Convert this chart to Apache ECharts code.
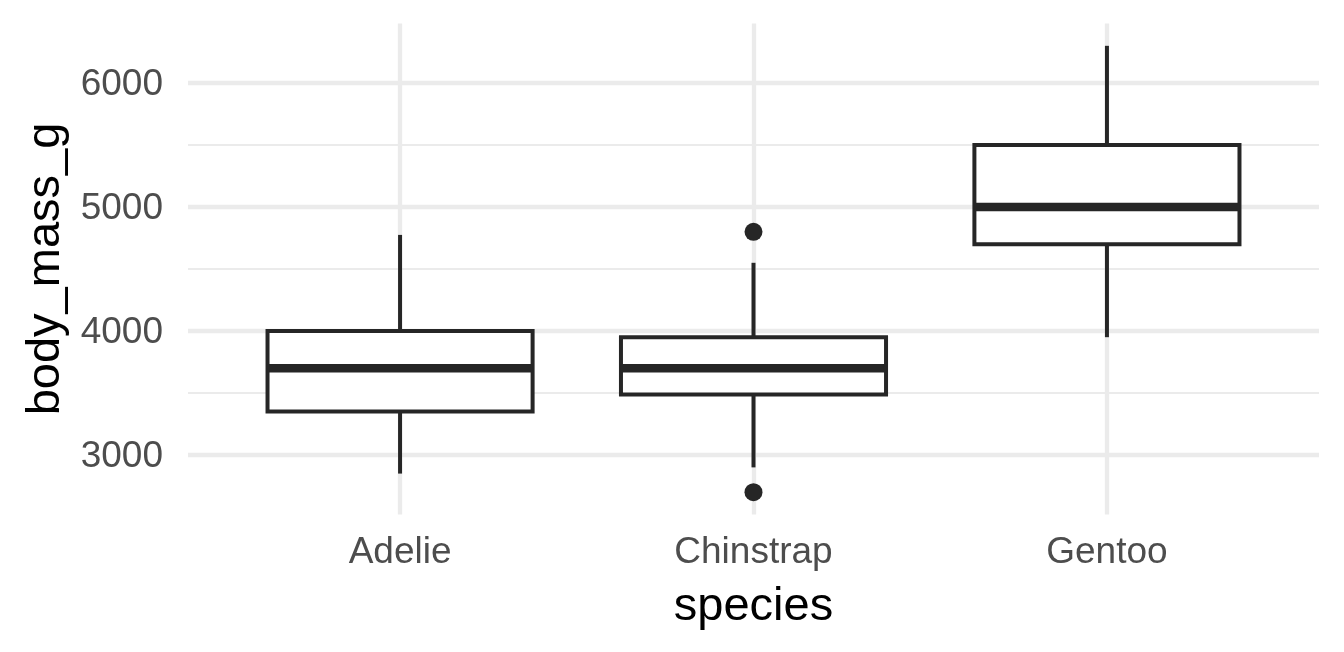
<!DOCTYPE html>
<html><head><meta charset="utf-8">
<script src="https://cdn.jsdelivr.net/npm/echarts@6/dist/echarts.min.js"></script>
<style>html,body{margin:0;padding:0;background:#fff}#c{width:1344px;height:652px}</style>
</head><body><div id="c"></div>
<script>
const categories = ['Adelie', 'Chinstrap', 'Gentoo'];
// [lower whisker, Q1, median, Q3, upper whisker]
const boxStats = [
  [2850, 3350, 3700, 4000, 4775],
  [2900, 3487.5, 3700, 3950, 4550],
  [3950, 4700, 5000, 5500, 6300]
];
const outliers = [[1, 4800], [1, 2700]];
const yMajorTicks = [3000, 4000, 5000, 6000];
const yMinorTicks = [3500, 4500, 5500];
const yRange = [2520, 6480];
const xRange = [-0.6, 2.6];

const boxData = boxStats.map((s, i) => [i].concat(s));
const chart = echarts.init(document.getElementById('c'));
const ink = '#262626';
const gridMajor = '#ebebeb';

chart.setOption({
  animation: false,
  grid: { left: 188, right: 25, top: 23.5, bottom: 137.5 },
  xAxis: {
    type: 'value', min: xRange[0], max: xRange[1],
    name: 'species', nameLocation: 'middle', nameGap: 69, nameMoveOverlap: false,
    nameTextStyle: { fontFamily: 'Liberation Sans', fontSize: 47, color: '#000' },
    axisLine: { show: false }, axisTick: { show: false }, splitLine: { show: false },
    axisLabel: { customValues: [0, 1, 2], formatter: v => categories[Math.round(v)] || '',
      fontFamily: 'Liberation Sans', fontSize: 37, color: '#4d4d4d', margin: 20 }
  },
  yAxis: {
    type: 'value', min: yRange[0], max: yRange[1],
    name: 'body_mass_g', nameLocation: 'middle', nameGap: 118, nameRotate: 90,
    nameTextStyle: { fontFamily: 'Liberation Sans', fontSize: 47, color: '#000' },
    axisLine: { show: false }, axisTick: { show: false }, splitLine: { show: false },
    axisLabel: { customValues: yMajorTicks, formatter: v => '{t|' + v + '}',
      rich: { t: { fontFamily: 'Liberation Sans', fontSize: 37, color: '#4d4d4d', padding: [4, 0, 0, 0] } },
      fontFamily: 'Liberation Sans', fontSize: 37, color: '#4d4d4d', margin: 25 }
  },
  series: [
    {
      type: 'line', data: [], silent: true, z: 0,
      markLine: {
        symbol: 'none', silent: true, label: { show: false }, animation: false, z: 0,
        emphasis: { disabled: true },
        data: [].concat(
          yMinorTicks.map(v => ({ yAxis: v, lineStyle: { color: gridMajor, width: 2.2, type: 'solid' } })),
          yMajorTicks.map(v => ({ yAxis: v, lineStyle: { color: gridMajor, width: 4.3, type: 'solid' } })),
          [0, 1, 2].map(v => ({ xAxis: v, lineStyle: { color: gridMajor, width: 4.3, type: 'solid' } }))
        )
      }
    },
    {
      type: 'custom', z: 10,
      data: boxData,
      encode: { x: 0, y: [1, 2, 3, 4, 5] },
      renderItem: function (params, api) {
        const x = api.value(0);
        const half = 0.375;
        const pLo = api.coord([x, api.value(1)]);
        const pQ1 = api.coord([x, api.value(2)]);
        const pMed = api.coord([x, api.value(3)]);
        const pQ3 = api.coord([x, api.value(4)]);
        const pHi = api.coord([x, api.value(5)]);
        const left = api.coord([x - half, 0])[0];
        const right = api.coord([x + half, 0])[0];
        const st = { stroke: ink, lineWidth: 4, fill: null };
        return {
          type: 'group',
          children: [
            { type: 'line', shape: { x1: pQ3[0], y1: pQ3[1], x2: pHi[0], y2: pHi[1] }, style: st },
            { type: 'line', shape: { x1: pQ1[0], y1: pQ1[1], x2: pLo[0], y2: pLo[1] }, style: st },
            { type: 'rect', shape: { x: left, y: pQ3[1], width: right - left, height: pQ1[1] - pQ3[1] },
              style: { stroke: ink, lineWidth: 4, fill: '#fff' } },
            { type: 'line', shape: { x1: left, y1: pMed[1], x2: right, y2: pMed[1] }, style: { stroke: ink, lineWidth: 8.5 } }
          ]
        };
      }
    },
    {
      type: 'scatter', z: 11, data: outliers, symbol: 'circle', symbolSize: 18,
      itemStyle: { color: ink, opacity: 1 }
    }
  ]
});
</script></body></html>
